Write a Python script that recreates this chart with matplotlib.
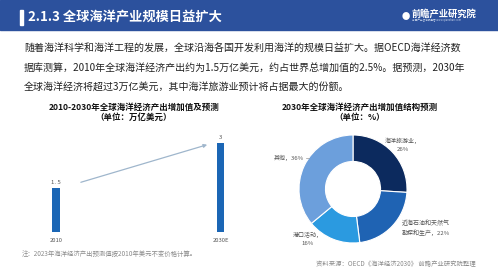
import matplotlib.pyplot as plt
from matplotlib.patches import Rectangle

plt.rcParams['font.family'] = ['Noto Sans CJK SC', 'DejaVu Sans']

# Daten
years = ["2010", "2030E"]
output_values = [1.5, 3]
sectors = ["海洋旅游业，\n26%", "近海石油和天然气\n勘探和生产，22%", "港口活动，\n16%", "其他，36%"]
shares = [26, 22, 16, 36]
sector_colors = ["#0c2a5e", "#1f63b3", "#2b9ae0", "#6c9fdc"]

W, H = 498, 280
fig = plt.figure(figsize=(W / 100, H / 100), dpi=100)


def px(x, y):
    # Pixel -> Figurkoordinaten
    return x / W, 1 - y / H


# Kopfzeile
fig.patches.append(Rectangle((0, 1 - 30 / H), 1, 30 / H, transform=fig.transFigure,
                             color="#2c519d", zorder=0))
fig.patches.append(Rectangle(px(20, 25), 3 / W, 15 / H, transform=fig.transFigure,
                             color="white", zorder=1))
fig.text(*px(28, 17.5), "2.1.3 全球海洋产业规模日益扩大", color="white", fontsize=9.5,
         fontweight="bold", va="center", ha="left")
fig.text(*px(412, 14), "前瞻产业研究院", color="white", fontsize=6.7, fontweight="bold",
         va="center", ha="left")
fig.text(*px(412, 20.5), "中国产业咨询领导者 www.qianzhan.com", color="#c8d4ea", fontsize=1.9,
         va="center", ha="left")
fig.text(*px(406, 16), "●", color="white", fontsize=6, va="center", ha="center")

# Fliesstext
body = ["随着海洋科学和海洋工程的发展，全球沿海各国开发利用海洋的规模日益扩大。据OECD海洋经济数",
        "据库测算，2010年全球海洋经济产出约为1.5万亿美元，约占世界总增加值的2.5%。据预测，2030年",
        "全球海洋经济将超过3万亿美元，其中海洋旅游业预计将占据最大的份额。"]
for i, line in enumerate(body):
    fig.text(*px(24, 49 + i * 19), line, fontsize=7.2, color="#222222", va="center", ha="left")

# Balkendiagramm
bx0, bx1, by0, by1 = 40, 237, 130, 232
ax = fig.add_axes([bx0 / W, 1 - by1 / H, (bx1 - bx0) / W, (by1 - by0) / H])
xpos = range(len(years))
ax.bar(xpos, output_values, width=0.043, color="#1b66b5")
for x, v in zip(xpos, output_values):
    ax.text(x, v + 0.1, f"{v:g}".replace(".", ". "), ha="center", va="bottom",
            fontsize=4.3, color="#555555")
ax.annotate("", xy=(0.935, output_values[1] * 0.99), xytext=(0.135, output_values[0] * 1.1),
            arrowprops=dict(arrowstyle="-|>", color="#9fb6cc", lw=0.9, mutation_scale=5))
ax.set_xlim(-0.097, 1.1)
ax.set_ylim(0, 3.44)
ax.axis("off")
for x, lab in zip(xpos, years):
    ax.text(x, -0.2, lab, ha="center", va="top", fontsize=4.2, color="#555555")

fig.text(*px(134, 107), "2010-2030年全球海洋经济产出增加值及预测", fontsize=6.1,
         fontweight="bold", ha="center", va="center", color="#111111")
fig.text(*px(134, 117.5), "（单位：万亿美元）", fontsize=6.1, fontweight="bold",
         ha="center", va="center", color="#111111")
fig.text(*px(22, 254), "注：2023年海洋经济产出预测值按2010年美元不变价格计算。", fontsize=4.6,
         color="#8a8a8a", ha="left", va="center")

# Ringdiagramm
cx, cy, r = 353, 189, 54
ax2 = fig.add_axes([(cx - r) / W, 1 - (cy + r) / H, 2 * r / W, 2 * r / H])
ax2.pie(shares, colors=sector_colors, startangle=90, counterclock=False, radius=1,
        wedgeprops=dict(width=0.49, edgecolor="white", linewidth=0.8))
ax2.set_xlim(-1, 1)
ax2.set_ylim(-1, 1)
ax2.set_aspect("equal")
ax2.axis("off")

label_pos = [(403, 144.5, "center"), (426, 228, "center"), (308, 239, "center"),
             (304, 158, "right")]
for (x, y, ha), lab in zip(label_pos, sectors):
    fig.text(*px(x, y), lab, fontsize=4.3, color="#555555", ha=ha, va="center",
             multialignment="center", linespacing=1.7)
# kurze Fuehrungslinie bei "Sonstige"
fig.lines.append(plt.Line2D([306 / W, 309 / W], [1 - 158 / H, 1 - 158 / H],
                            transform=fig.transFigure, color="#999999", lw=0.5))

fig.text(*px(360, 107), "2030年全球海洋经济产出增加值结构预测", fontsize=6.1,
         fontweight="bold", ha="center", va="center", color="#111111")
fig.text(*px(360, 117.5), "（单位：%）", fontsize=6.1, fontweight="bold",
         ha="center", va="center", color="#111111")

fig.text(*px(476, 264), "资料来源：OECD《海洋经济2030》 前瞻产业研究院整理", fontsize=4.55,
         color="#8a8a8a", ha="right", va="center")

fig.savefig("out.png", dpi=100, facecolor="white")
